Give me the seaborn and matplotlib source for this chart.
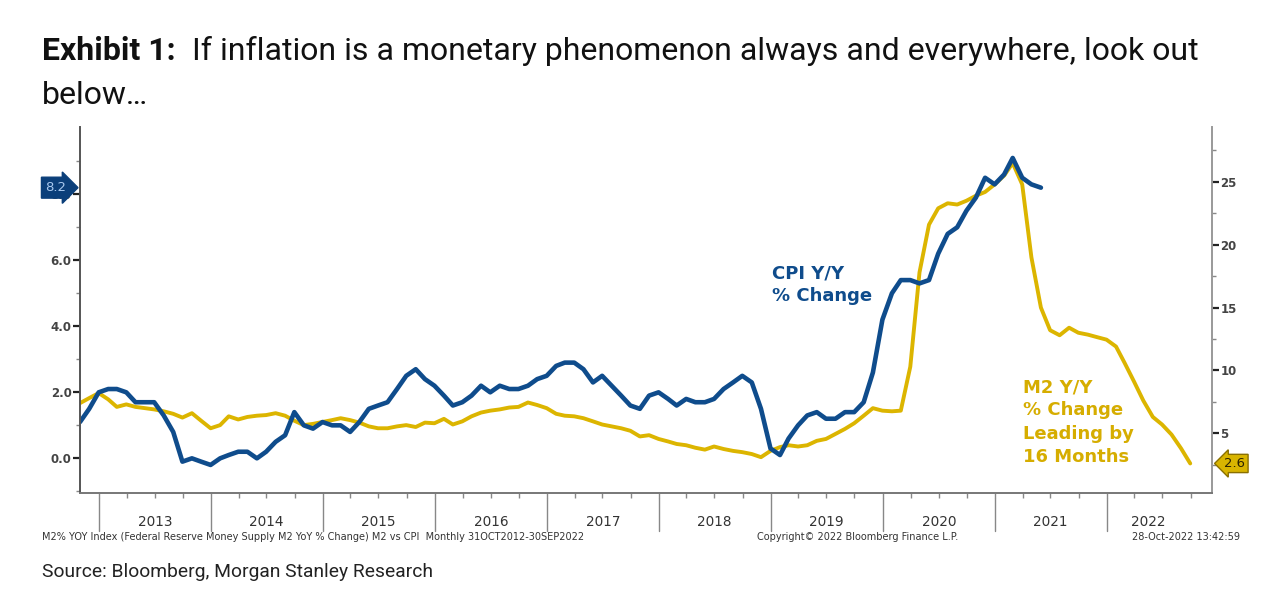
import matplotlib
matplotlib.use("Agg")
import matplotlib.pyplot as plt
import matplotlib.dates as mdates
from matplotlib.ticker import FixedLocator, FixedFormatter, NullFormatter
import seaborn as sns
import pandas as pd

# ---------------- data ----------------
# CPI Y/Y % change, shifted back 16 months (display dates start 31-Oct-2012)
cpi_yoy = [
    1.1, 1.5, 2.0, 2.1, 2.1, 2.0, 1.7, 1.7, 1.7, 1.3, 0.8,
    -0.1, 0.0, -0.1, -0.2, 0.0, 0.1, 0.2, 0.2, 0.0, 0.2, 0.5, 0.7,
    1.4, 1.0, 0.9, 1.1, 1.0, 1.0, 0.8, 1.1, 1.5, 1.6, 1.7, 2.1,
    2.5, 2.7, 2.4, 2.2, 1.9, 1.6, 1.7, 1.9, 2.2, 2.0, 2.2, 2.1,
    2.1, 2.2, 2.4, 2.5, 2.8, 2.9, 2.9, 2.7, 2.3, 2.5, 2.2, 1.9,
    1.6, 1.5, 1.9, 2.0, 1.8, 1.6, 1.8, 1.7, 1.7, 1.8, 2.1, 2.3,
    2.5, 2.3, 1.5, 0.3, 0.1, 0.6, 1.0, 1.3, 1.4, 1.2, 1.2, 1.4,
    1.4, 1.7, 2.6, 4.2, 5.0, 5.4, 5.4, 5.3, 5.4, 6.2, 6.8, 7.0,
    7.5, 7.9, 8.5, 8.3, 8.6, 9.1, 8.5, 8.3, 8.2,
]
# M2 Y/Y % change, monthly 31-Oct-2012 .. 30-Sep-2022
m2_yoy = [
    7.4, 7.8, 8.2, 7.7, 7.1, 7.3, 7.1, 7.0, 6.9, 6.75, 6.55, 6.25,
    6.6, 6.0, 5.4, 5.65, 6.35, 6.1, 6.3, 6.4, 6.45, 6.6, 6.4, 6.0,
    5.65, 5.75, 5.9, 6.05, 6.2, 6.05, 5.85, 5.55, 5.4, 5.4, 5.55, 5.65,
    5.5, 5.85, 5.8, 6.15, 5.7, 5.95, 6.35, 6.65, 6.8, 6.9, 7.05, 7.1,
    7.45, 7.25, 7.0, 6.55, 6.4, 6.35, 6.2, 5.95, 5.7, 5.55, 5.4, 5.2,
    4.75, 4.85, 4.55, 4.35, 4.15, 4.05, 3.85, 3.7, 3.95, 3.75, 3.6, 3.5,
    3.35, 3.1, 3.6, 3.9, 4.05, 3.95, 4.05, 4.4, 4.55, 4.95, 5.35, 5.8,
    6.4, 7.0, 6.8, 6.75, 6.8, 10.3, 17.8, 21.6, 22.9, 23.3, 23.2, 23.5,
    23.9, 24.2, 24.8, 25.5, 26.5, 24.8, 19.0, 15.0, 13.2, 12.8, 13.4, 13.0,
    12.85, 12.65, 12.45, 11.9, 10.6, 9.1, 7.6, 6.3, 5.7, 4.9, 3.8, 2.6,
]
years = ["2013", "2014", "2015", "2016", "2017", "2018", "2019", "2020", "2021", "2022"]
year_label_dates = ["2013-07-02", "2014-07-02", "2015-07-02", "2016-07-02", "2017-07-02",
                    "2018-07-02", "2019-07-02", "2020-07-02", "2021-07-02", "2022-05-15"]
left_ticks = [0, 2, 4, 6, 8]
right_ticks = [5, 10, 15, 20, 25]

BLUE = "#0f4c8c"
GOLD = "#dcb500"
GOLD_TXT = "#d6ad00"

df_cpi = pd.DataFrame({"date": pd.date_range("2012-10-31", periods=len(cpi_yoy), freq="ME"),
                       "value": cpi_yoy})
df_m2 = pd.DataFrame({"date": pd.date_range("2012-10-31", periods=len(m2_yoy), freq="ME"),
                      "value": m2_yoy})

sns.set_theme(style="white")
plt.rcParams["font.family"] = ["DejaVu Sans"]

W, H = 1270, 598
fig = plt.figure(figsize=(W / 100, H / 100), dpi=100)
fig.patch.set_facecolor("white")
ax = fig.add_axes([80 / W, (H - 493) / H, (1212 - 80) / W, (493 - 126.6) / H])
ax2 = ax.twinx()

sns.lineplot(data=df_m2, x="date", y="value", ax=ax2, color=GOLD, lw=2.8)
sns.lineplot(data=df_cpi, x="date", y="value", ax=ax, color=BLUE, lw=3.3)
ax.set_zorder(ax2.get_zorder() + 1)
ax.patch.set_visible(False)

ax.set_xlim(pd.Timestamp("2012-10-31"), pd.Timestamp("2022-12-10"))
ax.set_ylim(-1.05, 10.05)
ax2.set_ylim(0.25, 29.4)
for a in (ax, ax2):
    a.set_xlabel("")
    a.set_ylabel("")
    a.spines["top"].set_visible(False)

# left axis
ax.set_yticks(left_ticks)
ax.set_yticklabels([f"{v:.1f}" for v in left_ticks])
ax.yaxis.set_minor_locator(FixedLocator([-1, 1, 3, 5, 7, 9]))
ax.tick_params(axis="y", which="major", direction="out", length=5, width=1.6, color="#222",
               labelsize=8.5, labelcolor="#444", pad=1, left=True)
ax.tick_params(axis="y", which="minor", direction="out", length=3, width=1, color="#888", left=True)
for lab in ax.get_yticklabels():
    lab.set_fontweight("bold")
ax.spines["left"].set_color("#555")
ax.spines["left"].set_linewidth(1.4)
ax.spines["right"].set_visible(False)

# right axis
ax2.set_yticks(right_ticks)
ax2.set_yticklabels([str(v) for v in right_ticks])
ax2.yaxis.set_minor_locator(FixedLocator([2.5, 7.5, 12.5, 17.5, 22.5, 27.5]))
ax2.tick_params(axis="y", which="major", direction="out", length=5, width=1.6, color="#222",
                labelsize=8.5, labelcolor="#444", pad=1, right=True)
ax2.tick_params(axis="y", which="minor", direction="out", length=3, width=1, color="#888", right=True)
for lab in ax2.get_yticklabels():
    lab.set_fontweight("bold")
ax2.spines["right"].set_color("#999")
ax2.spines["right"].set_linewidth(1.4)
ax2.spines["left"].set_visible(False)
ax2.spines["bottom"].set_visible(False)

# bottom axis
ax.spines["bottom"].set_color("#777")
ax.spines["bottom"].set_linewidth(1.4)
ax.xaxis.set_major_locator(mdates.MonthLocator(bymonth=[1, 4, 7, 10]))
ax.xaxis.set_major_formatter(NullFormatter())
ax.tick_params(axis="x", which="major", direction="out", length=3.5, width=1, color="#888", bottom=True)
ax.xaxis.set_minor_locator(FixedLocator([mdates.date2num(pd.Timestamp(d)) for d in year_label_dates]))
ax.xaxis.set_minor_formatter(FixedFormatter(years))
ax.tick_params(axis="x", which="minor", length=0, labelsize=9.8, labelcolor="#333", pad=16)
for yr in years:
    ax.axvline(pd.Timestamp(f"{yr}-01-01"), ymin=-0.104, ymax=-0.014, color="#888", lw=1, clip_on=False)

# flags
ax.text(-0.012, 8.2, "8.2", transform=ax.get_yaxis_transform(), ha="right", va="center",
        color="#a9c9ef", fontsize=9.5, zorder=20, clip_on=False,
        bbox=dict(boxstyle="rarrow,pad=0.3", fc="#0b3f7a", ec="#0b3f7a"))
ax2.text(1.011, 2.6, "2.6", transform=ax2.get_yaxis_transform(), ha="left", va="center",
         color="#2b2200", fontsize=9.5, zorder=20, clip_on=False,
         bbox=dict(boxstyle="larrow,pad=0.2", fc="#d8b400", ec="#8a7000"))

# annotations
fig.text(772 / W, 1 - 265 / H, "CPI Y/Y\n% Change", color=BLUE, fontweight="bold", fontsize=13,
         ha="left", va="top", linespacing=1.3)
fig.text(1023 / W, 1 - 378 / H, "M2 Y/Y\n% Change\nLeading by\n16 Months", color=GOLD_TXT,
         fontweight="bold", fontsize=13, ha="left", va="top", linespacing=1.38)

# title
fig.text(42 / W, 1 - 51 / H, "Exhibit 1:", fontsize=23, fontweight="bold", family="Roboto",
         color="#111", va="center", ha="left")
fig.text(192 / W, 1 - 51 / H, "If inflation is a monetary phenomenon always and everywhere, look out",
         fontsize=23, family="Roboto", color="#111", va="center", ha="left")
fig.text(42 / W, 1 - 95 / H, "below…", fontsize=23, family="Roboto", color="#111", va="center", ha="left")

# footers
fig.text(42 / W, 1 - 537 / H,
         "M2% YOY Index (Federal Reserve Money Supply M2 YoY % Change) M2 vs CPI  Monthly 31OCT2012-30SEP2022",
         fontsize=7.05, color="#333", va="center", ha="left")
fig.text(757 / W, 1 - 537 / H, "Copyright© 2022 Bloomberg Finance L.P.", fontsize=7.05, color="#333",
         va="center", ha="left")
fig.text(1240 / W, 1 - 537 / H, "28-Oct-2022 13:42:59", fontsize=7.05, color="#333", va="center", ha="right")
fig.text(42 / W, 1 - 572 / H, "Source: Bloomberg, Morgan Stanley Research", fontsize=13.9, family="Roboto",
         color="#222", va="center", ha="left")

fig.savefig("out.png", dpi=100, facecolor="white")
